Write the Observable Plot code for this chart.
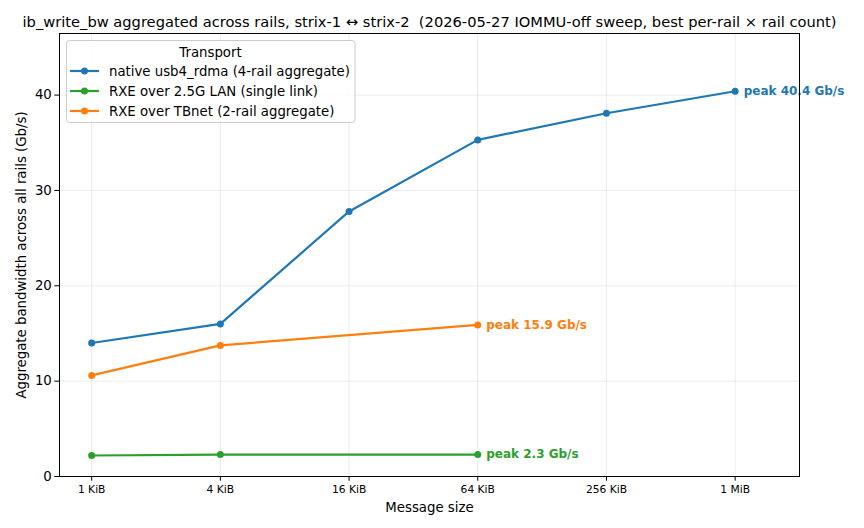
<!DOCTYPE html>
<html>
<head>
<meta charset="utf-8">
<script src="https://cdn.jsdelivr.net/npm/d3@7"></script>
<script src="https://cdn.jsdelivr.net/npm/@observablehq/plot@0.6"></script>
<style>
  html, body { margin: 0; padding: 0; background: #fff; }
  #chart svg { display: block; }
</style>
</head>
<body>
<div id="chart"></div>
<script>
// ---- data ----
const sizes = [1024, 4096, 16384, 65536, 262144, 1048576];
const sizeLabels = ["1 KiB", "4 KiB", "16 KiB", "64 KiB", "256 KiB", "1 MiB"];
const seriesNames = [
  "native usb4_rdma (4-rail aggregate)",
  "RXE over 2.5G LAN (single link)",
  "RXE over TBnet (2-rail aggregate)"
];
const seriesColors = ["#1f77b4", "#2ca02c", "#ff7f0e"];
const nativeGbps = [14.0, 16.0, 27.8, 35.3, 38.1, 40.4];
const lanGbps = [2.2, 2.3, null, 2.3, null, null];
const tbnetGbps = [10.6, 13.75, null, 15.9, null, null];
const peakLabels = ["peak 40.4 Gb/s", "peak 2.3 Gb/s", "peak 15.9 Gb/s"];
const yTicks = [0, 10, 20, 30, 40];
const titleText = "ib_write_bw aggregated across rails, strix-1 \u2194 strix-2  (2026-05-27 IOMMU-off sweep, best per-rail \u00d7 rail count)";
const xLabel = "Message size";
const yLabel = "Aggregate bandwidth across all rails (Gb/s)";
const legendTitle = "Transport";

// ---- build table ----
const allSeries = [nativeGbps, lanGbps, tbnetGbps];
const rows = [];
allSeries.forEach((vals, si) => {
  vals.forEach((v, i) => {
    if (v != null) rows.push({series: seriesNames[si], size: sizes[i], bw: v});
  });
});
// peak label sits at the last measured point of each series
const peaks = seriesNames.map((name, si) => {
  const r = rows.filter(d => d.series === name);
  const last = r[r.length - 1];
  return {...last, label: peakLabels[si]};
});
const labelOf = new Map(sizes.map((s, i) => [s, sizeLabels[i]]));
const yMax = d3.max(nativeGbps) * 1.15;

const plot = Plot.plot({
  width: 864,
  height: 528,
  marginLeft: 59,
  marginRight: 65,
  marginTop: 33,
  marginBottom: 52,
  style: {fontFamily: "DejaVu Sans", background: "#fff", overflow: "visible"},
  x: {type: "log", base: 2, domain: [2 ** 9.5, 2 ** 21]},
  y: {domain: [0, yMax]},
  color: {domain: seriesNames, range: seriesColors},
  marks: [
    Plot.gridX(sizes, {stroke: "#b0b0b0", strokeOpacity: 0.3, strokeWidth: 0.8}),
    Plot.gridY(yTicks, {stroke: "#b0b0b0", strokeOpacity: 0.3, strokeWidth: 0.8}),
    Plot.line(rows, {x: "size", y: "bw", stroke: "series", z: "series", strokeWidth: 2.2}),
    Plot.dot(rows, {x: "size", y: "bw", fill: "series", r: 3.5}),
    Plot.text(peaks, {x: "size", y: "bw", text: "label", fill: "series", textAnchor: "start", dx: 8.5, fontWeight: "bold", fontSize: 12}),
    Plot.frame({stroke: "#000", strokeWidth: 1}),
    Plot.axisX(sizes, {tickFormat: d => labelOf.get(d), tickSize: 4.7, tickPadding: 4, fontSize: 10.7, label: null, stroke: "#000", fill: "#000"}),
    Plot.axisY(yTicks, {tickSize: 4.7, tickPadding: 3, fontSize: 13.3, label: null, stroke: "#000", fill: "#000"}),
    Plot.text([titleText], {frameAnchor: "top", textAnchor: "middle", dy: -17, fontSize: 14.67, fill: "#000"}),
    Plot.text([xLabel], {frameAnchor: "bottom", textAnchor: "middle", dy: 35, fontSize: 13.3, fill: "#000"}),
    Plot.text([yLabel], {frameAnchor: "left", textAnchor: "middle", rotate: -90, dx: -38, fontSize: 13.3, fill: "#000"})
  ]
});

// ---- legend (inside the SVG, top-left of the axes) ----
const svg = d3.select(plot);
const color = plot.scale("color");
const lg = svg.append("g").attr("font-family", "DejaVu Sans").attr("font-size", 13.3).attr("text-anchor", "start");
lg.append("rect")
  .attr("x", 66.5).attr("y", 40.5).attr("width", 288.5).attr("height", 82)
  .attr("rx", 3).attr("fill", "#fff").attr("fill-opacity", 0.8)
  .attr("stroke", "#cccccc").attr("stroke-width", 1);
lg.append("text").attr("x", 210.5).attr("y", 56.5).attr("text-anchor", "middle").attr("fill", "#000").text(legendTitle);
seriesNames.forEach((name, i) => {
  const cy = 71 + i * 20;
  const c = color.apply(name);
  lg.append("line").attr("x1", 70).attr("x2", 99).attr("y1", cy).attr("y2", cy).attr("stroke", c).attr("stroke-width", 2.2);
  lg.append("circle").attr("cx", 84.5).attr("cy", cy).attr("r", 3.5).attr("fill", c);
  lg.append("text").attr("x", 109).attr("y", cy + 4.8).attr("text-anchor", "start").attr("fill", "#000").text(name);
});

document.getElementById("chart").appendChild(plot);
</script>
</body>
</html>
